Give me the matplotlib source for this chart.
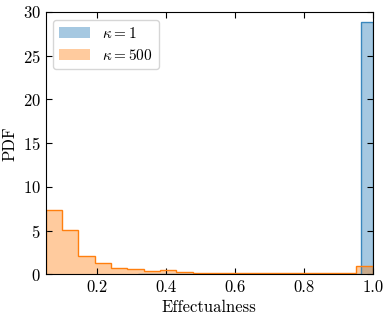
import numpy as np
import matplotlib
matplotlib.use("Agg")
import matplotlib.pyplot as plt

plt.rcParams['font.family'] = 'serif'
plt.rcParams['font.serif'] = ['cmr10', 'DejaVu Serif']
plt.rcParams['mathtext.fontset'] = 'cm'
plt.rcParams['axes.unicode_minus'] = False
plt.rcParams['axes.formatter.use_mathtext'] = True

# Orange series (kappa = 500): 20 bins from 0.05 to 1.0
orange_edges = np.linspace(0.05, 1.0, 21)
orange_density = [7.4, 5.1, 2.15, 1.28, 0.75, 0.6, 0.42, 0.5, 0.3, 0.17,
                  0.14, 0.13, 0.12, 0.12, 0.12, 0.12, 0.16, 0.12, 0.12, 0.97]

# Blue series (kappa = 1): 20 bins from 0.32 to 1.0
blue_edges = np.linspace(0.32, 1.0, 21)
blue_density = [0.02, 0.02, 0.02, 0.02, 0.02, 0.02, 0.02, 0.02, 0.02, 0.02,
                0.02, 0.02, 0.02, 0.02, 0.02, 0.02, 0.02, 0.02, 0.02, 28.8]

labels = [r'$\kappa = 1$', r'$\kappa = 500$']
xticks = [0.2, 0.4, 0.6, 0.8, 1.0]
yticks = [0, 5, 10, 15, 20, 25, 30]

fig = plt.figure(figsize=(3.89, 3.22), dpi=100)
ax = fig.add_axes([0.117, 0.148, 0.841, 0.815])

bc = 0.5 * (blue_edges[:-1] + blue_edges[1:])
oc = 0.5 * (orange_edges[:-1] + orange_edges[1:])

ax.hist(bc, bins=blue_edges, weights=blue_density, histtype='stepfilled',
        color='C0', alpha=0.4, label=labels[0])
ax.hist(bc, bins=blue_edges, weights=blue_density, histtype='step',
        color='C0', lw=1.0, alpha=0.8)
ax.hist(oc, bins=orange_edges, weights=orange_density, histtype='stepfilled',
        color='C1', alpha=0.4, label=labels[1])
ax.hist(oc, bins=orange_edges, weights=orange_density, histtype='step',
        color='C1', lw=1.0)

ax.set_xlim(0.05, 1.0)
ax.set_ylim(0, 30)
ax.set_xticks(xticks)
ax.set_xticklabels(['0.2', '0.4', '0.6', '0.8', '1.0'])
ax.set_yticks(yticks)
ax.tick_params(direction='in', top=True, right=True, labelsize=12, length=4)
ax.set_xlabel('Effectualness', fontsize=12)
ax.set_ylabel('PDF', fontsize=12)
ax.legend(loc='upper left', fontsize=11, labelspacing=0.45)

fig.savefig('out.png', dpi=100)
